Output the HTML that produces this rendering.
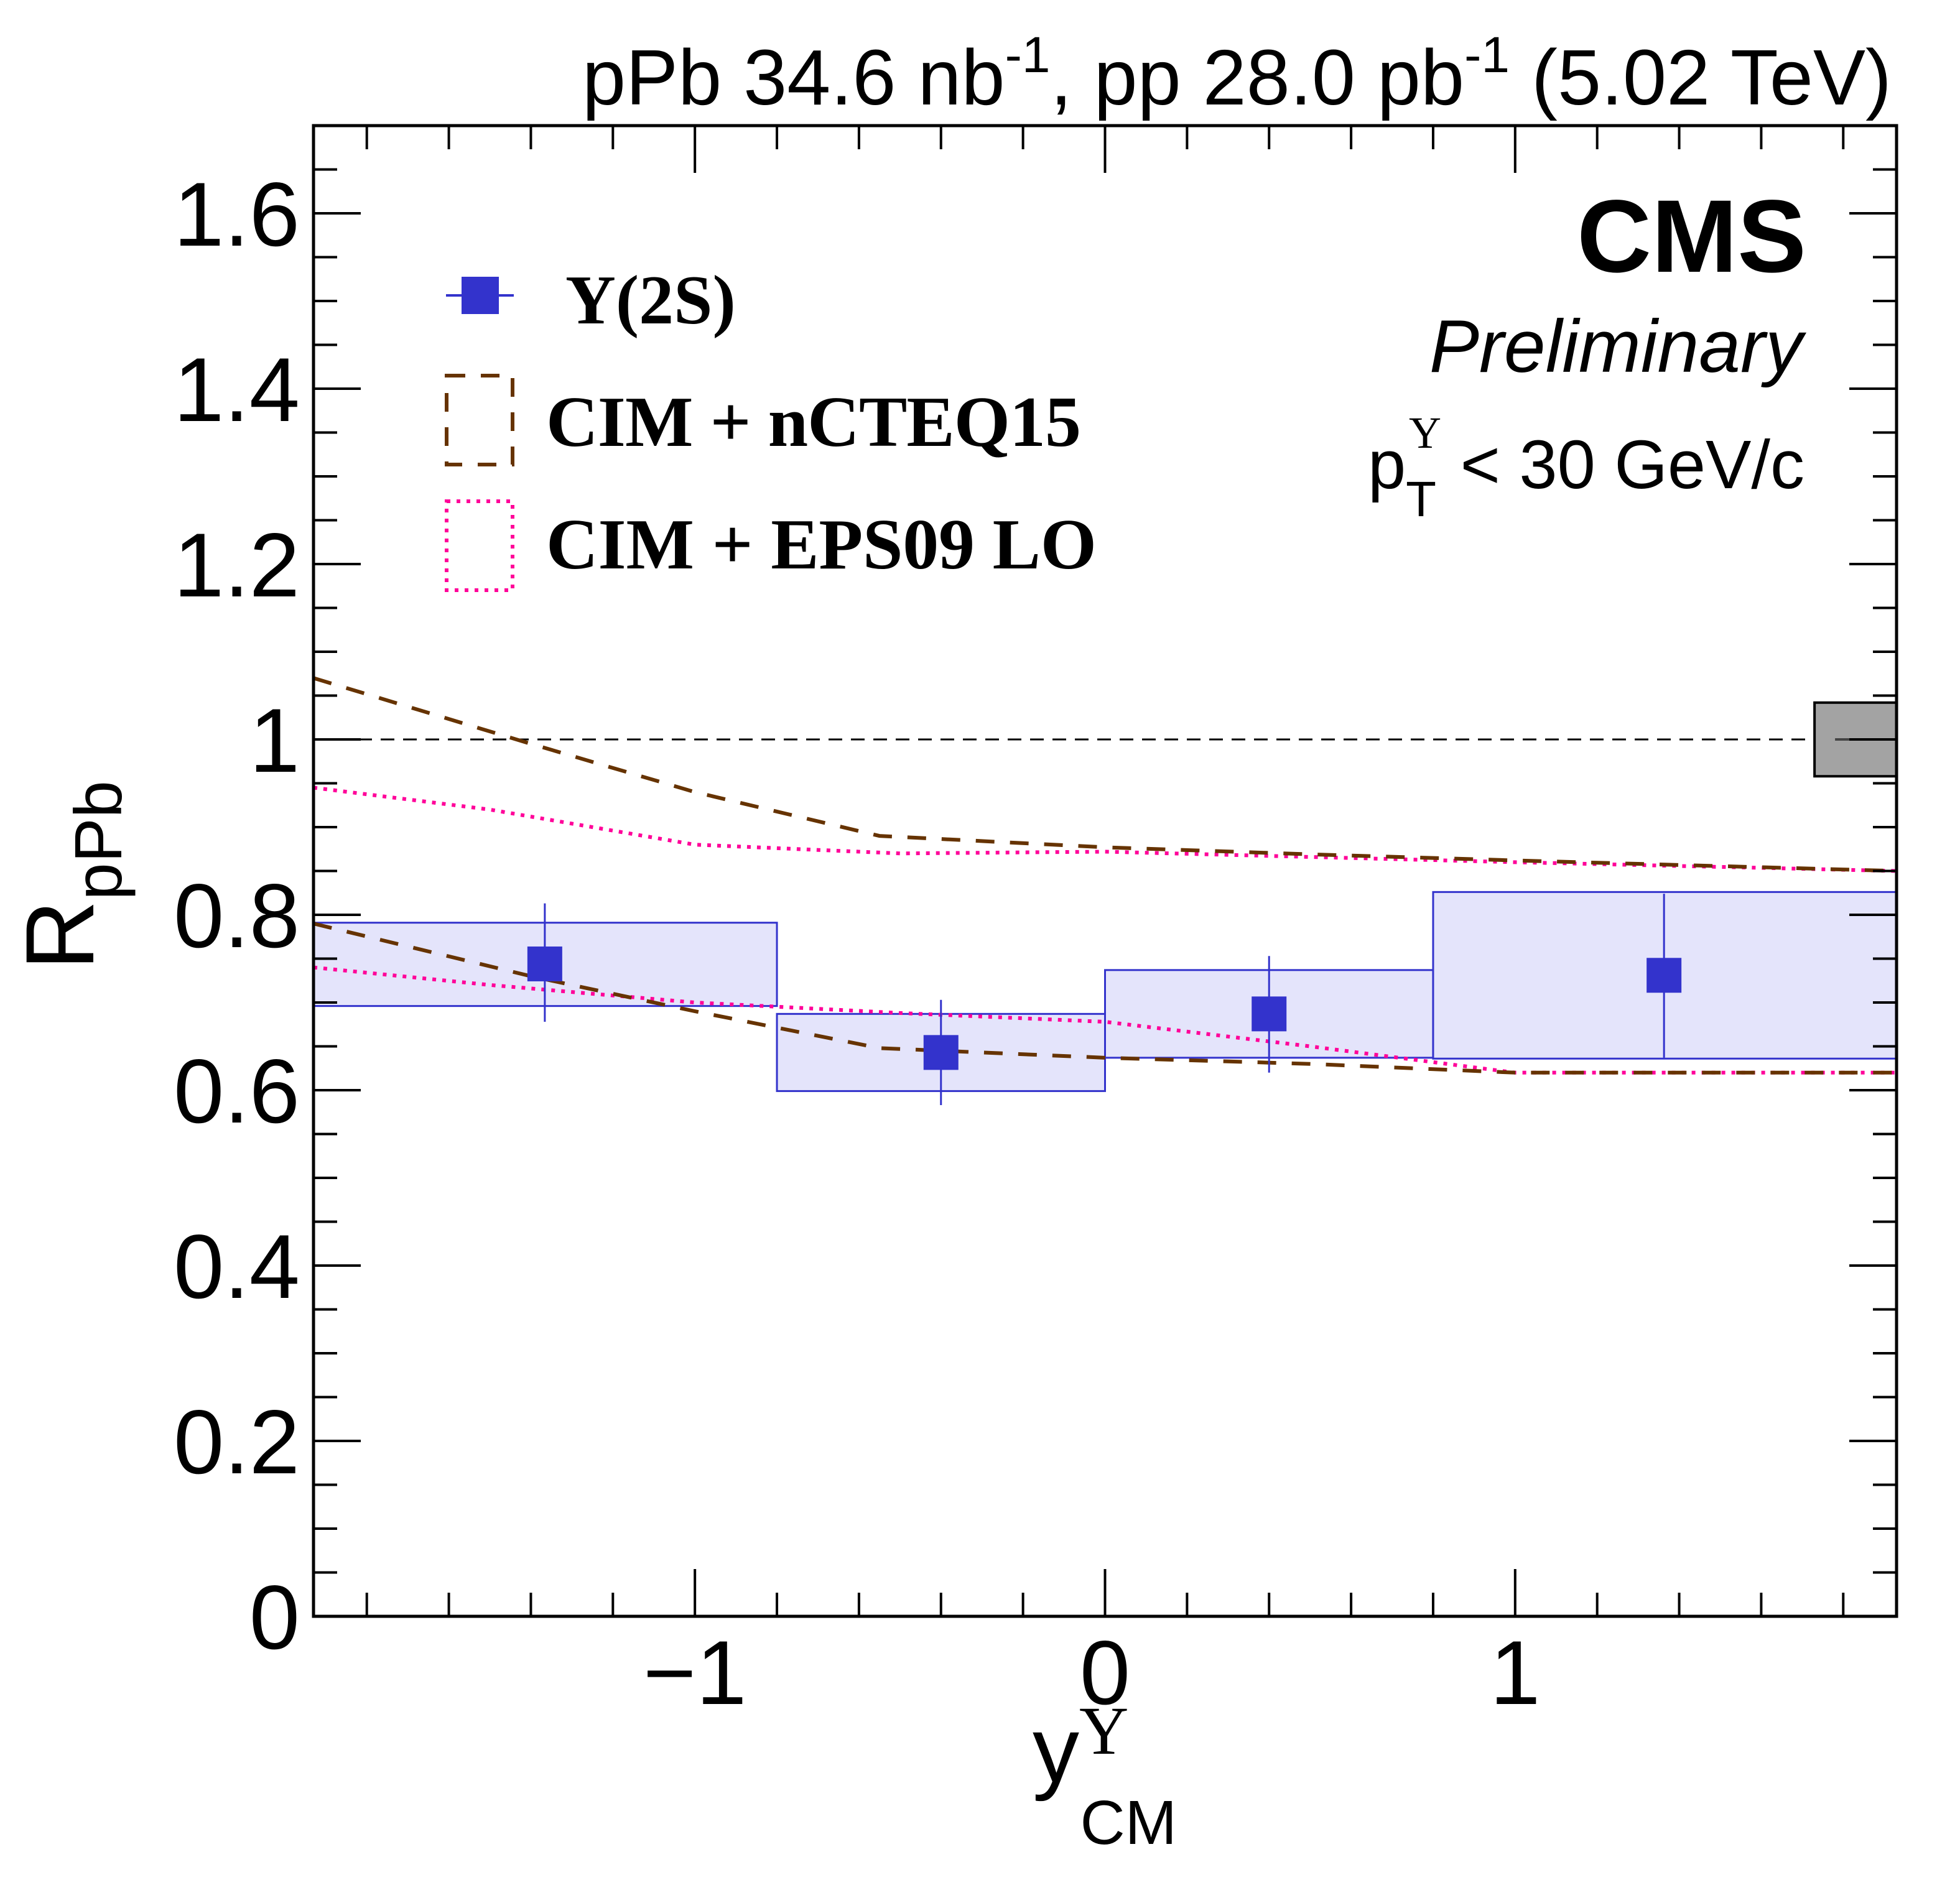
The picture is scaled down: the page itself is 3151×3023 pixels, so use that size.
<!DOCTYPE html>
<html><head><meta charset="utf-8"><style>html,body{margin:0;padding:0;background:#fff}svg{display:block}</style></head>
<body>
<svg id="chart" width="3151" height="3023" viewBox="0 0 3151 3023" xmlns="http://www.w3.org/2000/svg" font-family="Liberation Sans, sans-serif">
<rect width="3151" height="3023" fill="#fff"/>
<g id="boxes"></g>
<g id="curves"></g>
<g id="unc"></g>
<g id="points"></g>
<g id="axes"></g>
<text x="3041" y="168" font-size="126" text-anchor="end">pPb 34.6 nb<tspan dy="-52" font-size="82">-1</tspan><tspan dy="52">, pp 28.0 pb</tspan><tspan dy="-52" font-size="82">-1</tspan><tspan dy="52"> (5.02 TeV)</tspan></text>
<text x="2904" y="437" font-size="166" font-weight="bold" text-anchor="end">CMS</text>
<text x="2898" y="598" font-size="120" font-style="italic" text-anchor="end">Preliminary</text>
<text x="2901" y="785" font-size="110" text-anchor="end">p<tspan dy="45" font-size="80">T</tspan><tspan dy="-110" dx="-44" font-size="72" font-family="Liberation Serif, serif">Υ</tspan><tspan dy="65"> &lt; 30 GeV/c</tspan></text>
<g>
  <line x1="717" y1="475" x2="826" y2="475" stroke="#3333cc" stroke-width="4"/>
  <rect x="742" y="445" width="60" height="60" fill="#3333cc"/>
  <text x="909" y="520" font-family="Liberation Serif, serif" font-weight="bold" font-size="112">Υ(2S)</text>
  <rect x="718" y="604" width="106" height="143" fill="none" stroke="#663300" stroke-width="6" stroke-dasharray="30,25"/>
  <text x="878" y="717" font-family="Liberation Serif, serif" font-weight="bold" font-size="116" textLength="860">CIM + nCTEQ15</text>
  <rect x="718" y="806" width="106" height="143" fill="none" stroke="#ff0099" stroke-width="6" stroke-dasharray="6,10"/>
  <text x="878" y="914" font-family="Liberation Serif, serif" font-weight="bold" font-size="116" textLength="885">CIM + EPS09 LO</text>
</g>
<text transform="translate(150,1560) rotate(-90)" font-size="156">R<tspan dy="45" font-size="108">pPb</tspan></text>
<text x="1660" y="2865" font-size="150">y<tspan dy="-45" font-size="110" font-family="Liberation Serif, serif">Υ</tspan><tspan dx="-78" dy="145" font-size="100">CM</tspan></text>
<script>
const binLo=[-1.93,-0.8,0,0.8];
const binHi=[-0.8,0,0.8,1.93];
const ptX=[-1.366,-0.4,0.4,1.363];
const ptY=[0.744,0.643,0.687,0.731];
const errLo=[0.678,0.583,0.620,0.637];
const errHi=[0.813,0.703,0.753,0.824];
const sysLo=[0.696,0.599,0.637,0.636];
const sysHi=[0.791,0.687,0.737,0.826];
const curveX=[-1.93,-1.4,-1.0,-0.55,0,0.5,1.0,1.93];
const ncteqHi=[1.07,0.995,0.94,0.89,0.877,0.869,0.862,0.85];
const ncteqLo=[0.79,0.73,0.69,0.648,0.637,0.63,0.62,0.62];
const epsX=[-1.93,-1.5,-1.0,-0.5,0,0.5,1.0,1.93];
const epsHi=[0.945,0.92,0.88,0.87,0.872,0.866,0.86,0.85];
const epsLo=[0.74,0.72,0.70,0.688,0.678,0.65,0.62,0.62];
const globalUnc=[0.958,1.042];
const yTicks=[0,0.2,0.4,0.6,0.8,1,1.2,1.4,1.6];
const yTickLabels=["0","0.2","0.4","0.6","0.8","1","1.2","1.4","1.6"];
const xTicks=[-1,0,1];
const xTickLabels=["\u22121","0","1"];
const X0=504,X1=3049,Y0=2599,Y1=202,XMIN=-1.93,XMAX=1.93,YMIN=0,YMAX=1.7;
const sx=v=>X0+(v-XMIN)/(XMAX-XMIN)*(X1-X0);
const sy=v=>Y0-(v-YMIN)/(YMAX-YMIN)*(Y0-Y1);
const NS='http://www.w3.org/2000/svg';
function mk(tag,attrs,parent){const e=document.createElementNS(NS,tag);for(const k in attrs)e.setAttribute(k,attrs[k]);parent.appendChild(e);return e;}
const gB=document.getElementById('boxes'),gC=document.getElementById('curves'),gU=document.getElementById('unc'),gP=document.getElementById('points'),gA=document.getElementById('axes');
binLo.forEach((lo,i)=>{
  const r=mk('rect',{x:sx(lo),y:sy(sysHi[i]),width:sx(binHi[i])-sx(lo),height:sy(sysLo[i])-sy(sysHi[i]),fill:'#e4e4fb',stroke:'#3333cc','stroke-width':3},gB);
  
  
});
const ref=mk('line',{x1:X0,x2:X1,y1:sy(1),y2:sy(1),stroke:'#000','stroke-width':3,'stroke-dasharray':'22,14'},gC);


function curve(xs,ys,color,dash,name){
  const d=xs.map((x,i)=>(i?'L':'M')+sx(x)+','+sy(ys[i])).join(' ');
  const p=mk('path',{d:d,fill:'none',stroke:color,'stroke-width':6,'stroke-dasharray':dash},gC);
  
  
}
curve(epsX,epsHi,'#ff0099','6,10','eps09-upper');
curve(epsX,epsLo,'#ff0099','6,10','eps09-lower');
curve(curveX,ncteqHi,'#663300','30,25','ncteq15-upper');
curve(curveX,ncteqLo,'#663300','30,25','ncteq15-lower');
const gu=mk('rect',{x:sx(1.73),y:sy(globalUnc[1]),width:X1-sx(1.73),height:sy(globalUnc[0])-sy(globalUnc[1]),fill:'#a3a3a3',stroke:'#000','stroke-width':4},gU);


const gl=mk('line',{x1:sx(1.78),x2:X1,y1:sy(1),y2:sy(1),stroke:'#444','stroke-width':4},gU);


ptX.forEach((x,i)=>{
  const l=mk('line',{x1:sx(x),x2:sx(x),y1:sy(errLo[i]),y2:sy(errHi[i]),stroke:'#3333cc','stroke-width':3},gP);
  
  
  const r=mk('rect',{x:sx(x)-28,y:sy(ptY[i])-28,width:56,height:56,fill:'#3333cc'},gP);
  
  
});
const fr=mk('rect',{x:X0,y:Y1,width:X1-X0,height:Y0-Y1,fill:'none',stroke:'#000','stroke-width':5},gA);


for(let k=0;k<=34;k++){const v=k*0.05;const y=sy(v);const len=(k%4===0)?76:38;
  mk('line',{x1:X0,x2:X0+len,y1:y,y2:y,stroke:'#000','stroke-width':4},gA);
  mk('line',{x1:X1,x2:X1-len,y1:y,y2:y,stroke:'#000','stroke-width':4},gA);}
for(let k=-9;k<=9;k++){const v=k*0.2;const x=sx(v);const len=(k%5===0)?76:38;
  mk('line',{x1:x,x2:x,y1:Y0,y2:Y0-len,stroke:'#000','stroke-width':4},gA);
  mk('line',{x1:x,x2:x,y1:Y1,y2:Y1+len,stroke:'#000','stroke-width':4},gA);}
yTicks.forEach((v,i)=>{
  const t=mk('text',{x:482,y:sy(v)+52,'font-size':146,'text-anchor':'end'},gA);
  t.textContent=yTickLabels[i];
  
  
});
xTicks.forEach((v,i)=>{
  const t=mk('text',{x:sx(v)-(v<0?0:0),y:2740,'font-size':146,'text-anchor':'middle'},gA);
  t.textContent=xTickLabels[i];
  
  
});
</script>
</svg>
</body></html>
